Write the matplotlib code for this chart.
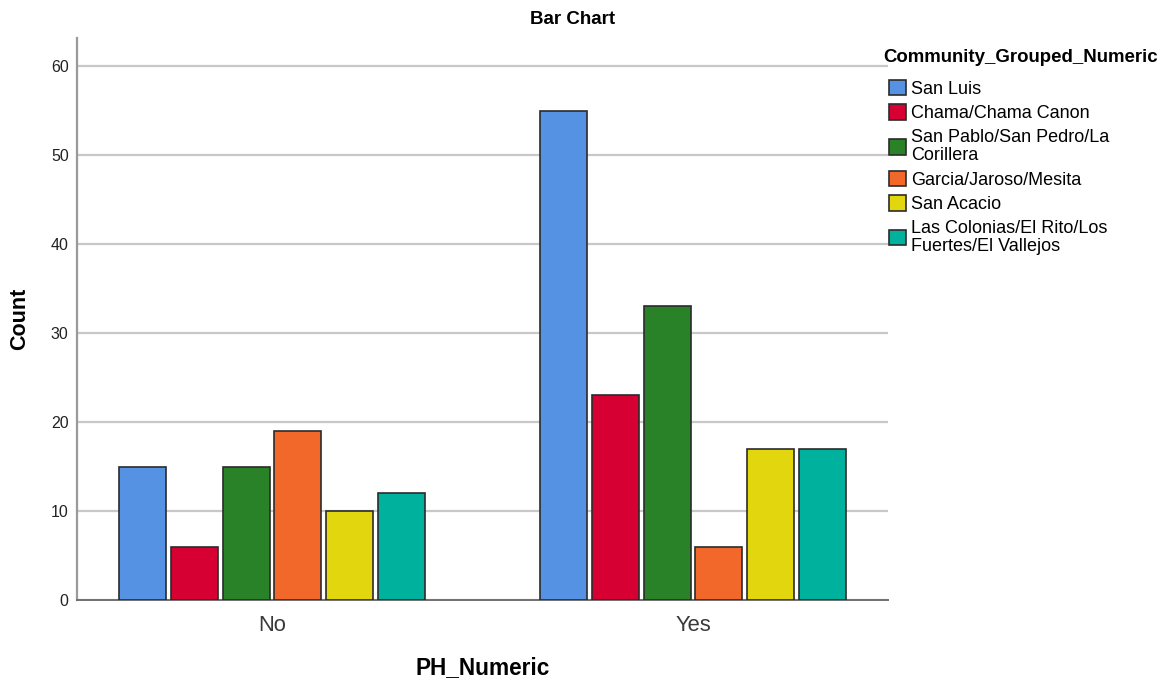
import matplotlib
matplotlib.use("Agg")
import matplotlib.pyplot as plt
import numpy as np

plt.rcParams['font.family'] = ['Liberation Sans', 'DejaVu Sans']

categories = ["No", "Yes"]
communities = [
    "San Luis",
    "Chama/Chama Canon",
    "San Pablo/San Pedro/La\nCorillera",
    "Garcia/Jaroso/Mesita",
    "San Acacio",
    "Las Colonias/El Rito/Los\nFuertes/El Vallejos",
]
counts_no = [15, 6, 15, 19, 10, 12]
counts_yes = [55, 23, 33, 6, 17, 17]
colors = ["#5592E3", "#D60032", "#2A8228", "#F2672A", "#E2D70F", "#00B29E"]
y_ticks = [0, 10, 20, 30, 40, 50, 60]

fig = plt.figure(figsize=(11.61, 6.83), dpi=100)
ax = fig.add_axes([77 / 1161, 1 - 600 / 683, (888 - 77) / 1161, (600 - 38) / 683])

x = np.arange(len(categories))
step = 0.123
width = 0.1116
n = len(communities)
handles = []
for i, (name, c) in enumerate(zip(communities, colors)):
    vals = [counts_no[i], counts_yes[i]]
    offs = (i - (n - 1) / 2) * step
    b = ax.bar(x + offs, vals, width=width, color=c, edgecolor="#2b2b2b",
               linewidth=1.2, label=name, zorder=3)
    handles.append(b)

ax.set_xlim(-0.463, 1.463)
ax.set_ylim(0, 63.15)
ax.set_yticks(y_ticks)
ax.set_xticks(x)
ax.set_xticklabels(categories, fontsize=15.8, color="#3a3a3a")
ax.tick_params(axis="y", labelsize=11.5, length=0, pad=6, colors="#222222")
ax.tick_params(axis="x", length=0, pad=11)
ax.yaxis.grid(True, color="#c8c8c8", linewidth=1.6, zorder=0)
ax.set_axisbelow(True)
for s in ["top", "right"]:
    ax.spines[s].set_visible(False)
ax.spines["left"].set_color("#9a9a9a")
ax.spines["left"].set_linewidth(1.6)
ax.spines["bottom"].set_color("#707070")
ax.spines["bottom"].set_linewidth(1.4)

fig.text(573 / 1161, 1 - 20 / 683, "Bar Chart", fontsize=13.5, fontweight="bold",
         ha="center", va="center")
fig.text(20 / 1161, 1 - 319 / 683, "Count", fontsize=15.5, fontweight="bold",
         rotation=90, ha="center", va="center")
fig.text(483 / 1161, 1 - 668 / 683, "PH_Numeric", fontsize=16.3, fontweight="bold",
         ha="center", va="center")

# legend title drawn separately so its gap to the entries can be set freely
fig.text(883 / 1161, 1 - 58 / 683, "Community_Grouped_Numeric", fontsize=13.4,
         fontweight="bold", ha="left", va="center")

leg = ax.legend(handles=handles, labels=communities, loc="upper left",
                bbox_to_anchor=(887 / 1161, 1 - 78 / 683),
                bbox_transform=fig.transFigure, frameon=False,
                fontsize=13, handlelength=0.95, handleheight=0.95,
                handletextpad=0.3, labelspacing=0.36, borderaxespad=0,
                borderpad=0.1)
for t in leg.get_texts():
    t.set_linespacing(1.1)

fig.savefig("out.png", dpi=100)
